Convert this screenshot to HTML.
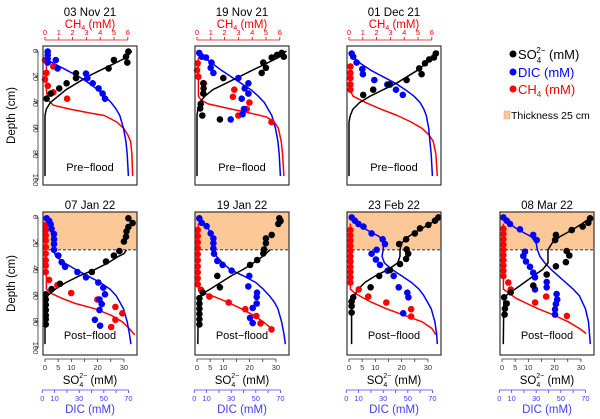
<!DOCTYPE html>
<html><head><meta charset="utf-8"><style>
html,body{margin:0;padding:0;background:#fff;}
svg{display:block;font-family:"Liberation Sans",Arial,sans-serif;}
</style></head><body>
<svg id="chart" width="600" height="419" viewBox="0 0 600 419" xmlns="http://www.w3.org/2000/svg">
<g id="legend">
  <g><circle cx="513" cy="54" r="3.5" fill="#000"/><text x="518" y="59" font-size="13" fill="#000">SO<tspan font-size="8" dy="4">4</tspan><tspan font-size="8" dx="-5" dy="-10">2−</tspan><tspan dy="6"> (mM)</tspan></text></g>
  <g><circle cx="513" cy="72" r="3.5" fill="#0000ff"/><text x="518" y="77" font-size="13" fill="#0000ff">DIC (mM)</text></g>
  <g><circle cx="513" cy="89" r="3.5" fill="#ff0000"/><text x="518" y="94" font-size="13" fill="#ff0000">CH<tspan font-size="8" dy="3">4</tspan><tspan dy="-3"> (mM)</tspan></text></g>
  <g><rect x="504" y="111" width="6" height="8" fill="#fdc898" stroke="#b08050" stroke-width="0.6" stroke-dasharray="1,1"/><text x="511" y="119" font-size="10.5" fill="#000">Thickness 25 cm</text></g>
</g>
</svg>
<script>
// ---------- DATA ----------
// points: [depth cm, value]; curves: [depth cm, value]
const nov03_so4=[[0.5,31.7],[4.4,30.8],[7,26.2],[9,31.3],[13.5,24.2],[17.3,11.8],[21,11.8],[25,8.2],[29,5.4],[33,2.2],[37,0.6]];
const nov03_dic=[[0.5,4.4],[3,4.4],[6,4.4],[9,4.4],[7,11],[13.5,12.4],[17.5,35.5],[21,36.6],[25,41],[29,45.8],[33,49],[37,51]];
const nov03_ch4=[[7,0],[12,0.6],[17,0.1],[22,0],[27,0.2],[32,0.6],[37,1.6]];
const nov03_so4c=[[0,33],[5,31],[10,26],[15,21],[20,16],[25,12],[30,8],[35,5],[40,2],[45,0.5],[50,0],[97,0]];
const nov03_dicc=[[7,4],[10,10],[15,20],[20,30],[25,38],[30,45],[35,51],[40,56],[45,60],[50,63],[60,66],[70,68],[80,69],[97,70]];
const nov03_ch4c=[[7,0.1],[30,0.1],[38,0.2],[42,0.6],[45,1.8],[48,3.2],[50,4.3],[55,5.2],[60,5.7],[65,6.0],[70,6.2],[80,6.3],[97,6.35]];

const nov19_so4=[[1.5,32.2],[3,30.4],[5,28.4],[4.4,33],[9,25.2],[13,26.2],[17,24.6],[21,10],[25,2.4],[29,2.5],[33,2.4],[41,1.4],[44.5,1.2],[50,2],[53,8.7]];
const nov19_dic=[[1.5,4],[4.4,6],[5,9.5],[9,14],[13,13.3],[17,15.5],[21,35.8],[25,44],[29,41],[33,44],[37,38.5],[45,40.4],[49,39.3],[53,29.6]];
const nov19_ch4=[[9.5,0.05],[15,0],[20,0.1],[25,0.5],[30,2.7],[35.5,2.6],[40,3.8],[45,3.6],[50,3.0],[55,5.4]];
const nov19_so4c=[[0,34],[5,31],[10,26],[15,21],[20,16],[25,11],[30,6],[35,3],[40,1],[45,0.3],[50,0],[97,0]];
const nov19_dicc=[[0,5],[5,8],[10,15],[15,22],[20,30],[25,38],[30,46],[35,52],[40,57],[45,60],[50,63],[60,66],[70,68],[80,69],[97,70]];
const nov19_ch4c=[[5,0.1],[35,0.1],[38,0.3],[41,0.8],[45,2.5],[48,3.8],[51,5.0],[55,5.6],[60,5.9],[70,6.1],[80,6.2],[97,6.3]];

const dec01_so4=[[2,33],[5,32.3],[6.5,30.5],[9.5,28.9],[13.5,26.7],[18,27.6],[22.5,21.9],[26,15.3],[30,9.2],[34,5.4]];
const dec01_dic=[[2,4.4],[4.4,5.6],[9,8.4],[14,13],[18,13.5],[22.5,22.8],[26,35.5],[26,33.3],[30,40.4],[34,45.9]];
const dec01_ch4=[[12,0.1],[17,0.1],[21,0.1],[26,0.1],[30,0.1]];
const dec01_so4c=[[0,34],[5,32],[10,29],[15,26],[20,22],[25,18],[30,13],[35,8],[40,4],[45,1.5],[50,0.5],[55,0],[97,0]];
const dec01_dicc=[[0,4],[5,6],[10,12],[15,20],[20,30],[25,40],[30,48],[35,55],[40,60],[45,63],[50,65],[60,67],[70,68],[80,69],[97,70]];
const dec01_ch4c=[[10,0.05],[30,0.05],[35,0.3],[40,1.2],[45,2.3],[50,3.5],[55,4.5],[60,5.3],[65,5.8],[70,6.1],[80,6.3],[97,6.4]];

const jan07_so4=[[1,31.7],[4.6,33.3],[7.6,31.7],[11,31],[15,30.8],[18.7,30],[26,28.3],[29.5,26.2],[34,23.2],[42,17.8],[51,5.7],[55,2.5],[59,0.3],[63,0.3],[67,0.3],[71,0.3],[75,0.3],[78,0.3],[82,0.3]];
const jan07_dic=[[1,3.6],[3,5.7],[5.6,6.8],[9,7.6],[13,9.5],[17,9.5],[20.6,9.5],[25,9.5],[29.5,13],[34.5,15.8],[38,18.5],[42,28.5],[46,35.5],[50,45.5],[54,49.6],[59,51],[63,46.5],[66.5,48.3],[71,46.5],[78.5,42.8],[83,47]];
const jan07_ch4=[[6,0.05],[10,0.05],[14,0.05],[18,0.05],[23,0.05],[28,0.05],[33,0.05],[37,0.05],[42,0.05],[48,0.3],[52,0.9],[58,1.9],[63,3.8],[68.6,5.1],[73.5,5.6],[78.5,5.1],[84,4.8]];
const jan07_so4c=[[25,31],[28,30],[30,28],[35,24],[40,19],[45,13],[50,8],[55,4],[60,1],[65,0.2],[70,0],[97,0]];
const jan07_dicc=[[0,4],[5,6],[10,7],[15,8],[20,8.5],[25,9],[30,11],[35,18],[40,27],[45,37],[50,47],[55,55],[60,60],[65,63],[70,66],[80,69],[90,71],[97,72]];
const jan07_ch4c=[[5,0.1],[55,0.1],[58,0.4],[62,1.2],[66,2.2],[70,3.6],[75,4.8],[80,5.6],[85,6.1],[90,6.5]];

const jan19_so4=[[1,31.3],[3,31.8],[5.3,30.9],[13.7,28.4],[16.3,26.2],[20,26.2],[24.7,25.5],[27.8,25.2],[32.8,22.9],[36.6,20.2],[45,7.7],[53.7,8.7],[57.8,2.2],[62,0.9],[66,0.9],[70,0.9],[74,0.9],[78,0.9],[82,0.9]];
const jan19_dic=[[1,4.1],[4.4,6],[7,10],[12.5,13.3],[16.3,15.5],[20,15.5],[24,15.5],[28,16],[33.5,18.7],[36.6,23],[41,30.4],[45,44.7],[53,43.9],[57.8,51],[61,50.7],[66,50.7],[69.5,47.5],[77,45.3],[81,47.5]];
const jan19_ch4=[[10,0.05],[14.6,0.05],[19.2,0.05],[23.8,0.05],[28.4,0.05],[33,0.05],[37.6,0.05],[42.2,0.05],[46.8,0.05],[51.4,0.05],[55.6,0.3],[60.8,0.9],[65.3,2.3],[70.4,3.5],[75.6,4.3],[81.2,4.6],[85.8,5.4]];
const jan19_so4c=[[25,27.8],[30,25],[35,21.5],[40,17.6],[45,13],[50,9],[55,5],[58,2.5],[62,1],[70,0.5],[97,0.3]];
const jan19_dicc=[[0,4],[5,8],[10,12],[15,15],[20,16],[25,16.5],[30,18],[35,23],[40,29],[45,40],[50,50],[55,56],[60,61],[65,65],[70,68],[80,71],[90,73],[97,74]];
const jan19_ch4c=[[5,0.1],[55,0.1],[58,0.5],[61,1.3],[65,2.2],[70,3.2],[75,4.1],[80,4.8],[86,5.5]];

const feb23_so4=[[0.3,34],[2.8,32.7],[6,30.2],[8.7,27],[12.5,25],[17,21.7],[20.6,19.1],[24.7,21.9],[28,22.5],[32,21.7],[35.9,19.4],[40.5,15.6],[45,11.5],[53.7,8.2],[61.3,1.6],[64.6,1],[68,1],[73,1]];
const feb23_dic=[[0.3,4.4],[2.8,7],[5.3,9.8],[7.3,13.9],[12.5,20.6],[17,29.6],[20.6,31.5],[25,24.7],[28,20.6],[32.5,24.1],[36.6,27.4],[41,33.6],[45,38.5],[53.7,42.6],[57.8,49.6],[61.3,50.5],[73.5,46.3]];
const feb23_ch4=[[10,0.1],[14,0.1],[18,0.1],[22,0.1],[26,0.1],[30,0.1],[34,0.1],[38,0.1],[42,0.1],[46,0.1],[50,0.1],[55.3,0.7],[60.8,1.4],[65.3,2.7],[70.4,4.5],[76,4.5]];
const feb23_so4c=[[0,34.5],[5,31],[10,26.5],[15,22.5],[20,20],[25,19.4],[30,19.4],[35,18.5],[40,15],[45,10],[50,6],[55,3.5],[60,2],[65,1.3],[70,1],[97,1]];
const feb23_dicc=[[0,4],[5,9],[10,17],[15,27],[20,30],[25,30],[30,29],[35,31],[40,37],[45,45],[50,53],[55,59],[60,63],[65,66],[70,69],[80,72],[90,73.5],[97,74]];
const feb23_ch4c=[[5,0.1],[55,0.1],[58,0.4],[61,0.9],[65,1.6],[70,2.7],[75,4.0],[80,5.3],[85,6.0],[90,6.3]];

const mar08_so4=[[1,33.5],[4.4,32.8],[7.3,30.7],[10,26.5],[13.7,20.5],[17.6,20.2],[26,24.6],[29.4,25.6],[34.5,24.3],[37.6,20.5],[44,17],[52.4,11.9],[57.5,3.3],[61.3,0.8],[66,1.8],[70,1.1],[74.5,1]];
const mar08_dic=[[0.3,3.3],[2.8,6],[5.3,8.7],[9.4,16.8],[13.7,27.6],[17.6,30.4],[26.5,20.9],[29.8,19.5],[34,21.7],[38,25],[42.5,27.6],[46,29],[49.6,38.5],[53.7,38.5],[55.3,29],[58.8,46.6],[63,47.1],[66.5,46],[70.5,45.3],[74.5,45.3]];
const mar08_ch4=[[9,0.1],[13,0.1],[17,0.1],[21,0.1],[25,0.1],[29,0.1],[33,0.1],[37,0.1],[41,0.1],[45,0.1],[50,0.46],[55.3,0.63],[60.8,3.2],[65.3,2.4],[75.5,4.7]];
const mar08_so4c=[[0,34],[5,30.5],[10,26.5],[15,22],[20,19],[25,17.5],[30,17.5],[35,17.5],[40,15.5],[45,12],[50,8.5],[55,5],[60,1.5],[65,0.7],[97,0.5]];
const mar08_dicc=[[0,3],[5,8],[10,16],[15,26],[20,30],[25,31],[30,33],[35,37],[40,42],[45,48],[50,54],[55,60],[60,65],[70,70],[80,72.5],[97,74]];
const mar08_ch4c=[[5,0.1],[55,0.1],[58,0.5],[62,1.0],[66,1.8],[70,2.6],[75,3.8],[80,4.8],[85,5.6],[89,6.1]];

const panelTitles=["03 Nov 21","19 Nov 21","01 Dec 21","07 Jan 22","19 Jan 22","23 Feb 22","08 Mar 22"];
const depthTicks=[0,20,40,60,80,100];
const ch4Ticks=[0,1,2,3,4,5,6];
const so4Ticks=[0,5,10,15,20,25,30];
const so4Labels=[0,5,10,20,30];
const dicTicks=[0,10,20,30,40,50,60,70];
const dicLabels=[0,10,30,50,70];

// ---------- LAYOUT ----------
const NS="http://www.w3.org/2000/svg";
const svg=document.getElementById('chart');
function mk(tag,attrs,parent){const e=document.createElementNS(NS,tag);for(const k in attrs)e.setAttribute(k,attrs[k]);(parent||svg).appendChild(e);return e;}
const BW=94;
const panels=[
 {left:43,top:46,bot:185,d0:51,ds:1.29,row:0,first:true,so4:nov03_so4,dic:nov03_dic,ch4:nov03_ch4,so4c:nov03_so4c,dicc:nov03_dicc,ch4c:nov03_ch4c},
 {left:195,top:46,bot:185,d0:51,ds:1.29,row:0,so4:nov19_so4,dic:nov19_dic,ch4:nov19_ch4,so4c:nov19_so4c,dicc:nov19_dicc,ch4c:nov19_ch4c},
 {left:347,top:46,bot:185,d0:51,ds:1.29,row:0,so4:dec01_so4,dic:dec01_dic,ch4:dec01_ch4,so4c:dec01_so4c,dicc:dec01_dicc,ch4c:dec01_ch4c},
 {left:43,top:212,bot:355,d0:217,ds:1.31,row:1,first:true,so4:jan07_so4,dic:jan07_dic,ch4:jan07_ch4,so4c:jan07_so4c,dicc:jan07_dicc,ch4c:jan07_ch4c},
 {left:195,top:212,bot:355,d0:217,ds:1.31,row:1,so4:jan19_so4,dic:jan19_dic,ch4:jan19_ch4,so4c:jan19_so4c,dicc:jan19_dicc,ch4c:jan19_ch4c},
 {left:347,top:212,bot:355,d0:217,ds:1.31,row:1,so4:feb23_so4,dic:feb23_dic,ch4:feb23_ch4,so4c:feb23_so4c,dicc:feb23_dicc,ch4c:feb23_ch4c},
 {left:500,top:212,bot:355,d0:217,ds:1.31,row:1,so4:mar08_so4,dic:mar08_dic,ch4:mar08_ch4,so4c:mar08_so4c,dicc:mar08_dicc,ch4c:mar08_ch4c}
];
const RED="#ff0000",BLUE="#0000ff",LBLUE="#4040ff";

panels.forEach((p,i)=>{
  const g=mk('g',{});
  
  
  const L=p.left,cx=L+BW/2;
  const yD=d=>p.d0+d*p.ds;
  const xS=v=>L+2+v*2.63;
  const xC=v=>L+2+v*13.8;
  const xD=v=>L-0.7+v*1.23;
  if(p.row===1){
    const sh=mk('rect',{x:L,y:p.top,width:BW,height:yD(25)-p.top,fill:"#fdc898"},g);
    
    
    const dl=mk('line',{x1:L,x2:L+BW,y1:yD(25),y2:yD(25),stroke:"#555","stroke-dasharray":"3,2","stroke-width":1.2},g);
    
    
  }
  const ty=p.row===0?16:209;
  const t=mk('text',{x:cx,y:ty,"text-anchor":"middle","font-size":11.5,fill:"#000"},g);
  t.textContent=panelTitles[i];
  
  
  const line=(arr,fx,col,name)=>{
    const pl=mk('polyline',{points:arr.map(a=>fx(a[1]).toFixed(1)+','+yD(a[0]).toFixed(1)).join(' '),fill:"none",stroke:col,"stroke-width":1.5,"stroke-linejoin":"round"},g);
    
    
  };
  line(p.ch4c,xC,RED,'ch4-model-curve');
  line(p.dicc,xD,BLUE,'dic-model-curve');
  line(p.so4c,xS,"#000",'so4-model-curve');
  const pts=(arr,fx,col,name)=>arr.forEach(a=>{
    const c=mk('circle',{cx:fx(a[1]).toFixed(1),cy:yD(a[0]).toFixed(1),r:3.3,fill:col},g);
    
    
  });
  pts(p.ch4,xC,RED,'ch4-point');
  pts(p.dic,xD,BLUE,'dic-point');
  pts(p.so4,xS,"#000",'so4-point');
  const bx=mk('rect',{x:L,y:p.top,width:BW,height:p.bot-p.top,fill:"none",stroke:"#333","stroke-width":1.2},g);
  
  
  const fl=mk('text',{x:cx,y:yD(90)+4,"text-anchor":"middle","font-size":11,fill:"#000"},g);
  fl.textContent=p.row===0?"Pre\u2212flood":"Post\u2212flood";
  
  
  if(p.first){
    mk('line',{x1:L-5,x2:L-5,y1:yD(0),y2:yD(100),stroke:"#333","stroke-width":0.8},g);
    depthTicks.forEach(d=>{
      mk('line',{x1:L-8,x2:L-5,y1:yD(d),y2:yD(d),stroke:"#333","stroke-width":0.8},g);
      const tl=mk('text',{x:0,y:0,"text-anchor":"middle","font-size":7.5,fill:"#333",transform:`translate(${L-10},${yD(d)}) rotate(90)`},g);
      tl.textContent=d;
      
      
    });
    const at=mk('text',{x:0,y:0,"text-anchor":"middle","font-size":11.5,fill:"#000",transform:`translate(15,${(p.top+p.bot)/2}) rotate(-90)`},g);
    at.textContent="Depth (cm)";
    
    
  }
  if(p.row===0){
    mk('line',{x1:xC(0),x2:xC(6),y1:40,y2:40,stroke:RED,"stroke-width":0.8},g);
    ch4Ticks.forEach(v=>{
      mk('line',{x1:xC(v),x2:xC(v),y1:40,y2:37,stroke:RED,"stroke-width":0.8},g);
      const tl=mk('text',{x:xC(v),y:35,"text-anchor":"middle","font-size":7.5,fill:RED},g);
      tl.textContent=v;
      
      
    });
    const ct=mk('text',{x:cx,y:28,"text-anchor":"middle","font-size":11.5,fill:RED},g);
    ct.innerHTML='CH<tspan font-size="7" dy="2">4</tspan><tspan dy="-2"> (mM)</tspan>';
    
    
  } else {
    mk('line',{x1:xS(0),x2:xS(30),y1:359,y2:359,stroke:"#333","stroke-width":0.8},g);
    so4Ticks.forEach(v=>mk('line',{x1:xS(v),x2:xS(v),y1:359,y2:362,stroke:"#333","stroke-width":0.8},g));
    so4Labels.forEach(v=>{
      const tl=mk('text',{x:xS(v),y:370,"text-anchor":"middle","font-size":7.5,fill:"#333"},g);
      tl.textContent=v;
      
      
    });
    const st=mk('text',{x:cx,y:384,"text-anchor":"middle","font-size":11.5,fill:"#000"},g);
    st.innerHTML='SO<tspan font-size="7" dy="3">4</tspan><tspan font-size="7" dx="-4" dy="-9">2−</tspan><tspan dy="6"> (mM)</tspan>';
    
    
    mk('line',{x1:xD(0),x2:xD(70),y1:390,y2:390,stroke:LBLUE,"stroke-width":0.8},g);
    dicTicks.forEach(v=>mk('line',{x1:xD(v),x2:xD(v),y1:390,y2:393,stroke:LBLUE,"stroke-width":0.8},g));
    dicLabels.forEach(v=>{
      const tl=mk('text',{x:xD(v),y:401,"text-anchor":"middle","font-size":7.5,fill:LBLUE},g);
      tl.textContent=v;
      
      
    });
    const dt=mk('text',{x:cx,y:413,"text-anchor":"middle","font-size":11.5,fill:LBLUE},g);
    dt.textContent="DIC (mM)";
    
    
  }
});
</script>
</body></html>
